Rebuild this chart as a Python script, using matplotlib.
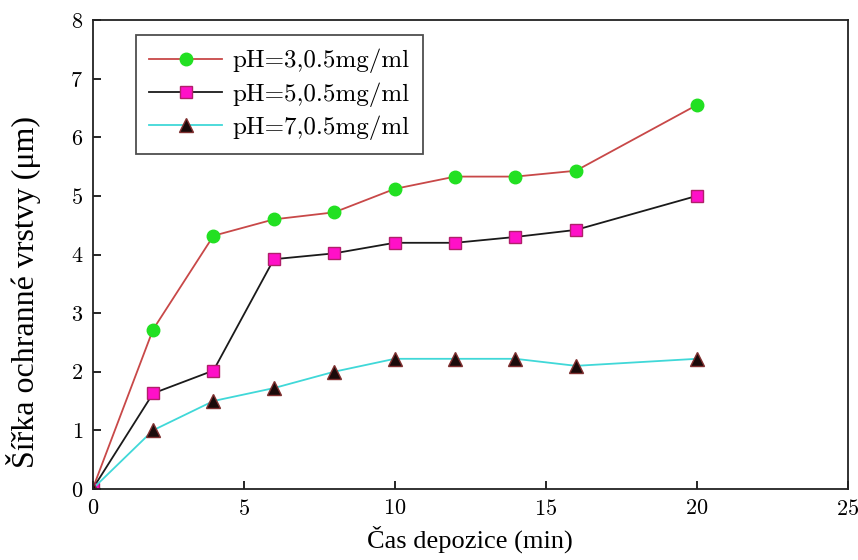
import matplotlib
matplotlib.use('Agg')
import matplotlib.pyplot as plt

# Data
cas = [0, 2, 4, 6, 8, 10, 12, 14, 16, 20]
ph3 = [0, 2.72, 4.32, 4.60, 4.72, 5.12, 5.33, 5.33, 5.43, 6.55]
ph5 = [0, 1.63, 2.02, 3.92, 4.02, 4.20, 4.20, 4.30, 4.42, 5.00]
ph7 = [0, 1.00, 1.50, 1.72, 2.00, 2.22, 2.22, 2.22, 2.10, 2.22]
labels = ['pH=3,0.5mg/ml', 'pH=5,0.5mg/ml', 'pH=7,0.5mg/ml']

plt.rcParams['font.family'] = ['cmr10', 'Liberation Serif']
plt.rcParams['axes.formatter.use_mathtext'] = True
plt.rcParams['mathtext.fontset'] = 'cm'

fig = plt.figure(figsize=(8.58, 5.6), dpi=100)
ax = fig.add_axes([0.108, 0.127, 0.880, 0.837])

ax.plot(cas, ph3, color='#c84848', lw=1.3, marker='o', ms=9,
        mfc='#22e022', mec='#22e022', label=labels[0])
ax.plot(cas, ph5, color='#1a1a1a', lw=1.3, marker='s', ms=9,
        mfc='#ff10c8', mec='#b0206a', label=labels[1])
ax.plot(cas, ph7, color='#40d8d8', lw=1.3, marker='^', ms=10,
        mfc='#1a0a0a', mec='#803030', label=labels[2])

ax.set_xlim(0, 25)
ax.set_ylim(0, 8)
ax.set_xticks([0, 5, 10, 15, 20, 25])
ax.set_yticks(range(0, 9))
ax.tick_params(direction='in', length=6, width=1.2, labelsize=16, pad=7)
for s in ax.spines.values():
    s.set_linewidth(1.3)
    s.set_color('#222222')

ax.set_xlabel('Čas depozice (min)', fontsize=19, family='Liberation Serif',
              labelpad=5)
ax.set_ylabel('Šířka ochranné vrstvy (μm)', fontsize=23,
              family='Liberation Serif')
ax.yaxis.set_label_coords(-0.069, 0.42)

leg = ax.legend(loc='upper left', bbox_to_anchor=(0.057, 0.968), fontsize=18,
                frameon=True, fancybox=False, edgecolor='#222222',
                handlelength=2.9, handletextpad=0.4, borderpad=0.55,
                labelspacing=0.35, borderaxespad=0)
leg.get_frame().set_linewidth(1.3)

fig.savefig('out.png', dpi=100)
